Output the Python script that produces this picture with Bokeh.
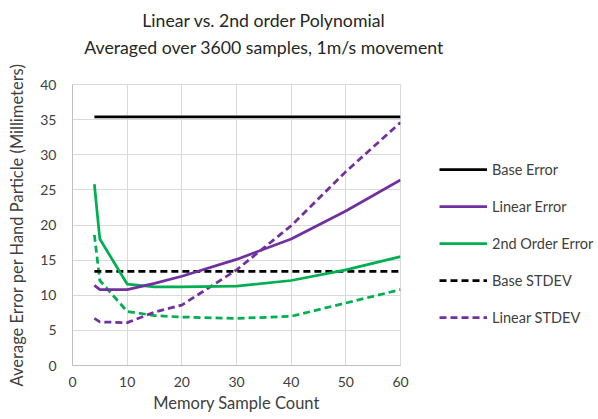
from bokeh.plotting import figure
from bokeh.layouts import row, column
from bokeh.models import Legend, LegendItem, Range1d, SingleIntervalTicker, Label
from bokeh.embed import file_html
from bokeh.resources import INLINE

# ---- data ----
sample_count = [4, 5, 10, 15, 20, 30, 40, 50, 60]
base_error = [35.4, 35.4, 35.4, 35.4, 35.4, 35.4, 35.4, 35.4, 35.4]
linear_error = [11.4, 10.8, 10.8, 11.7, 12.7, 15.1, 18.0, 22.0, 26.4]
order2_error = [25.8, 18.0, 11.6, 11.2, 11.2, 11.3, 12.1, 13.6, 15.5]
base_stdev = [13.4, 13.4, 13.4, 13.4, 13.4, 13.4, 13.4, 13.4, 13.4]
linear_stdev = [6.7, 6.2, 6.1, 7.6, 8.6, 13.6, 19.9, 27.6, 34.6]
order2_stdev = [18.6, 12.1, 7.7, 7.1, 6.9, 6.7, 7.0, 8.9, 10.8]

title_line1 = "Linear vs. 2nd order Polynomial"
title_line2 = "Averaged over 3600 samples, 1m/s movement"
x_label = "Memory Sample Count"
y_label = "Average Error per Hand Particle (Millimeters)"
legend_labels = ["Base Error", "Linear Error", "2nd Order Error", "Base STDEV", "Linear STDEV"]

FONT = "Lato"
PURPLE = "#7030A0"
GREEN = "#00B050"
BLACK = "#000000"
TXT = "#404040"
DASH = "7 4"
LW = 2.75

# ---- header with the two-line title ----
hdr = figure(width=596, height=60, output_backend="svg", toolbar_location=None,
             x_axis_type=None, y_axis_type=None, min_border=0,
             x_range=Range1d(0, 1), y_range=Range1d(0, 1))
hdr.outline_line_color = None
hdr.grid.visible = False
for txt, ypos in ((title_line1, 40), (title_line2, 13)):
    hdr.add_layout(Label(x=263.5, y=ypos, x_units="screen", y_units="screen", text=txt,
                         text_align="center", text_baseline="middle", text_font=FONT,
                         text_font_size="17.7px", text_color="#262626"))

# ---- main plot ----
p = figure(frame_width=328, frame_height=281, output_backend="svg", toolbar_location=None,
           title=None,
           x_range=Range1d(0, 60), y_range=Range1d(0, 40),
           min_border_left=72, min_border_right=12,
           min_border_top=24, min_border_bottom=52)

p.xaxis.ticker = SingleIntervalTicker(interval=10)
p.yaxis.ticker = SingleIntervalTicker(interval=5)
p.xgrid.ticker = SingleIntervalTicker(interval=10)
p.ygrid.ticker = SingleIntervalTicker(interval=5)
p.grid.grid_line_color = "#d9d9d9"
p.grid.grid_line_width = 1
p.outline_line_color = "#d9d9d9"

for ax in (p.xaxis, p.yaxis):
    ax.axis_line_color = "#bfbfbf"
    ax.major_tick_in = 0
    ax.major_tick_out = 0
    ax.minor_tick_in = 0
    ax.minor_tick_out = 0
    ax.major_label_text_font = FONT
    ax.major_label_text_font_size = "14px"
    ax.major_label_text_color = TXT
    ax.axis_label_text_font = FONT
    ax.axis_label_text_font_size = "16.5px"
    ax.axis_label_text_font_style = "normal"
    ax.axis_label_text_color = TXT

p.xaxis.axis_label = x_label
p.yaxis.axis_label = y_label
p.xaxis.major_label_standoff = 11
p.xaxis.axis_label_standoff = 3
p.yaxis.major_label_standoff = 16
p.yaxis.axis_label_standoff = 10

p.line(sample_count, order2_stdev, line_color=GREEN, line_width=LW, line_dash=DASH)
p.line(sample_count, linear_stdev, line_color=PURPLE, line_width=LW, line_dash=DASH)
p.line(sample_count, base_stdev, line_color=BLACK, line_width=LW, line_dash=DASH)
p.line(sample_count, order2_error, line_color=GREEN, line_width=LW)
p.line(sample_count, linear_error, line_color=PURPLE, line_width=LW)
p.line(sample_count, base_error, line_color=BLACK, line_width=LW)

# ---- legend panel (its frame is aligned with the main frame by the row) ----
lg = figure(width=184, height=357, output_backend="svg", toolbar_location=None,
            x_axis_type=None, y_axis_type=None, min_border=0,
            x_range=Range1d(0, 1), y_range=Range1d(0, 1))
lg.outline_line_color = None
lg.grid.visible = False
series = [base_error, linear_error, order2_error, base_stdev, linear_stdev]
styles = [(BLACK, "solid"), (PURPLE, "solid"), (GREEN, "solid"), (BLACK, DASH), (PURPLE, DASH)]
items = []
for lab, ys, (c, d) in zip(legend_labels, series, styles):
    # real series drawn outside this panel's visible range: only the legend swatch shows
    r = lg.line(sample_count, ys, line_color=c, line_width=LW, line_dash=d)
    items.append(LegendItem(label=lab, renderers=[r]))

legend = Legend(items=items, location=(27, 38), orientation="vertical",
                glyph_width=48, glyph_height=20, label_height=20, spacing=17,
                padding=0, margin=0, border_line_color=None, background_fill_alpha=0,
                label_standoff=5, label_text_font=FONT, label_text_font_size="14.5px",
                label_text_color=TXT)
lg.add_layout(legend, "center")

layout = column(hdr, row(p, lg))
open("out.html", "w").write(file_html(layout, INLINE))
